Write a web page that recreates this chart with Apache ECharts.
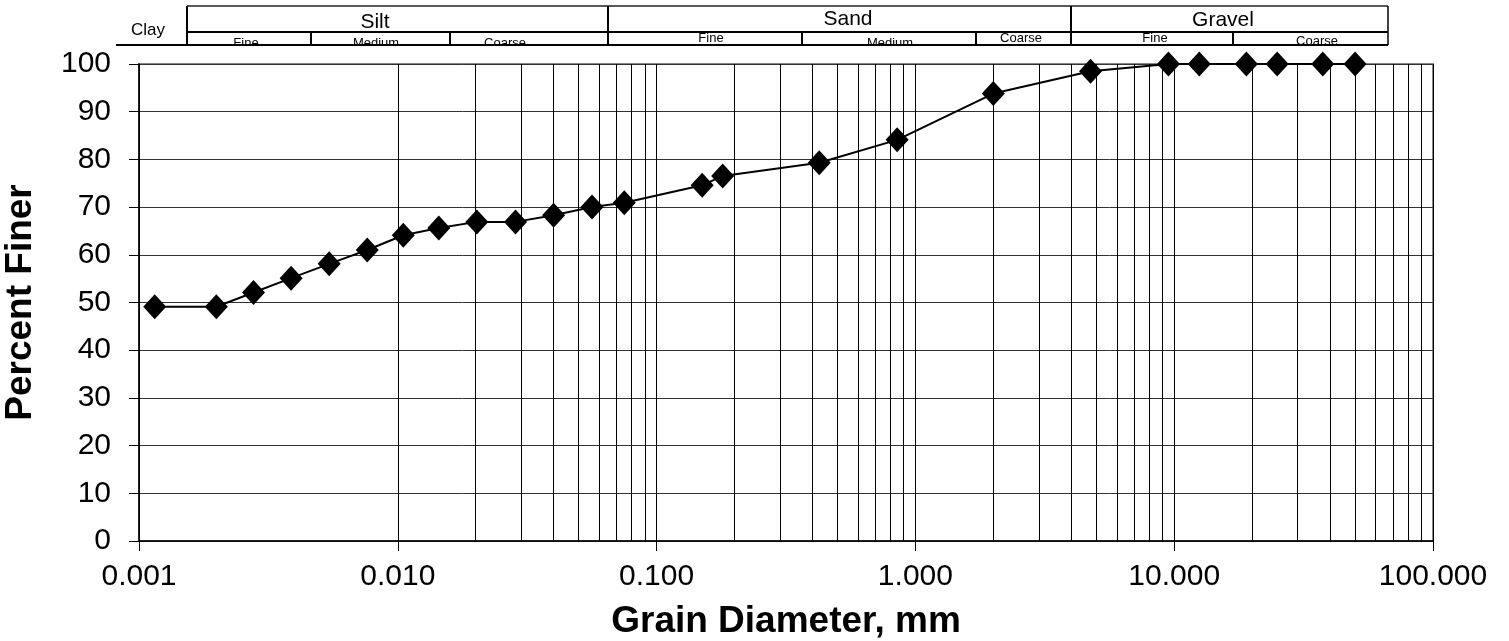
<!DOCTYPE html>
<html>
<head>
<meta charset="utf-8">
<script src="https://cdn.jsdelivr.net/npm/echarts@6/dist/echarts.min.js"></script>
<style>
html,body{margin:0;padding:0;background:#fff;}
#chart{width:1509px;height:641px;}
</style>
</head>
<body>
<div id="chart"></div>
<script>
// ---- data ----
var grainDiameter = [0.00115, 0.00199, 0.00277, 0.00387, 0.00543, 0.00762, 0.0105, 0.0144, 0.0202, 0.0285, 0.0400, 0.0563, 0.075, 0.150, 0.180, 0.425, 0.850, 2.0, 4.75, 9.5, 12.5, 19.0, 25.0, 37.5, 50.0];
var percentFiner  = [49.1, 49.1, 52.1, 55.1, 58.1, 61.0, 64.1, 65.6, 66.9, 66.9, 68.3, 70.0, 70.9, 74.6, 76.5, 79.3, 84.1, 93.8, 98.5, 100, 100, 100, 100, 100, 100];
var minorGridValues = [0.002,0.003,0.004,0.005,0.006,0.007,0.008,0.009,
                       0.02,0.03,0.04,0.05,0.06,0.07,0.08,0.09,
                       0.2,0.3,0.4,0.5,0.6,0.7,0.8,0.9,
                       2,3,4,5,6,7,8,9,
                       20,30,40,50,60,70,80,90];
var xTickLabels = ['0.001','0.010','0.100','1.000','10.000','100.000'];
var headerMain = ['Clay','Silt','Sand','Gravel'];
var headerSub = ['Fine','Medium','Coarse','Fine','Medium','Coarse','Fine','Coarse'];

var FONT = '"Liberation Sans", Arial, sans-serif';
var chart = echarts.init(document.getElementById('chart'), null, {renderer:'canvas'});

var points = grainDiameter.map(function(d,i){return [d, percentFiner[i]];});

function lineEl(x1,y1,x2,y2,w,c){
  return {type:'line', silent:true, z:10, shape:{x1:x1,y1:y1,x2:x2,y2:y2}, style:{stroke:c||'#000', lineWidth:w||2}};
}
function textEl(t,x,y,size){
  return {type:'text', silent:true, z:10, x:x, y:y, style:{text:t, fill:'#000', font: size+'px '+FONT, textAlign:'center', textVerticalAlign:'middle'}};
}

var graphics = [
  // header lines
  lineEl(187,6,1388,6,1.5,'#222'),
  lineEl(187,32,1388,32,2),
  lineEl(116,45,1388,45,2),
  lineEl(187,6,187,45,2),
  lineEl(608,6,608,45,2),
  lineEl(1071,6,1071,45,2),
  lineEl(1388,6,1388,45,1.5),
  lineEl(311,32,311,45,2),
  lineEl(450,32,450,45,2),
  lineEl(802,32,802,45,2),
  lineEl(976,32,976,45,2),
  lineEl(1233,32,1233,45,2),
  // header texts
  textEl(headerMain[0],148,30,17),
  textEl(headerMain[1],375,22,21),
  textEl(headerMain[2],848,19,21),
  textEl(headerMain[3],1223,20,21),
  textEl(headerSub[0],246,43,13),
  textEl(headerSub[1],376,43,13),
  textEl(headerSub[2],505,43,13),
  textEl(headerSub[3],711,38,13),
  textEl(headerSub[4],890,43,13),
  textEl(headerSub[5],1021,38,13),
  textEl(headerSub[6],1155,38,13),
  textEl(headerSub[7],1317,41,13),
  // mask to crop the cut-off sub labels
  {type:'rect', silent:true, z:11, shape:{x:180,y:46,width:820,height:12}, style:{fill:'#fff'}}
];

var option = {
  animation:false,
  backgroundColor:'#fff',
  grid:{left:139, right:76, top:64, bottom:100, containLabel:false, outerBoundsMode:'none',
        show:true, borderColor:'#888', borderWidth:2, backgroundColor:'transparent'},
  xAxis:{
    type:'log', logBase:10, min:0.001, max:100, splitNumber:5,
    name:'Grain Diameter, mm', nameLocation:'middle', nameGap:62,
    nameTextStyle:{fontFamily:FONT, fontWeight:'bold', fontSize:37, color:'#000'},
    axisLine:{show:true, onZero:false, lineStyle:{color:'#000', width:1.5}},
    axisTick:{show:true, inside:false, length:10, lineStyle:{color:'#000'}},
    axisLabel:{margin:21, fontFamily:FONT, fontSize:30, color:'#000',
      formatter:function(v){ var i=Math.round(Math.log10(v))+3; return xTickLabels[i]!==undefined?xTickLabels[i]:v.toFixed(3);} },
    splitLine:{show:true, lineStyle:{color:'#000', width:1}}
  },
  yAxis:{
    type:'value', min:0, max:100, interval:10,
    name:'Percent Finer', nameLocation:'middle', nameGap:100, nameRotate:90,
    nameTextStyle:{fontFamily:FONT, fontWeight:'bold', fontSize:37, color:'#000'},
    axisLine:{show:true, lineStyle:{color:'#000', width:1.5}},
    axisTick:{show:true, inside:false, length:10, lineStyle:{color:'#000'}},
    axisLabel:{margin:28, fontFamily:FONT, fontSize:30, color:'#000'},
    splitLine:{show:true, lineStyle:{color:'#333', width:1}}
  },
  graphic:graphics,
  series:[
    {
      type:'line', data:[], z:1, silent:true,
      markLine:{silent:true, symbol:['none','none'], label:{show:false},
        lineStyle:{color:'#000', width:1, type:'solid'},
        emphasis:{disabled:true},
        data:minorGridValues.map(function(v){return {xAxis:v};})}
    },
    {
      type:'line', data:points, z:5,
      symbol:'diamond', symbolSize:[23,25],
      itemStyle:{color:'#000'},
      lineStyle:{color:'#000', width:2},
      showSymbol:true
    }
  ]
};
chart.setOption(option);
</script>
</body>
</html>
